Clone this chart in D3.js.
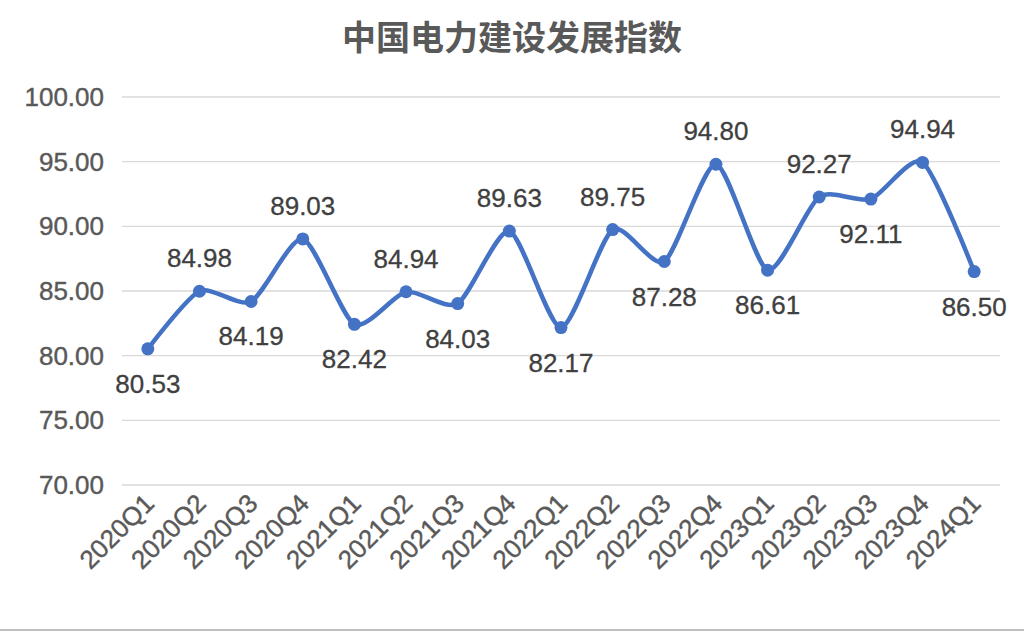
<!DOCTYPE html>
<html><head><meta charset="utf-8">
<script src="https://cdn.jsdelivr.net/npm/d3@7"></script>
<style>body{margin:0;background:#fff}</style>
</head><body><div class="chart"></div>
<script>
var quarters = ["2020Q1","2020Q2","2020Q3","2020Q4","2021Q1","2021Q2","2021Q3","2021Q4","2022Q1","2022Q2","2022Q3","2022Q4","2023Q1","2023Q2","2023Q3","2023Q4","2024Q1"];
var values = [80.53,84.98,84.19,89.03,82.42,84.94,84.03,89.63,82.17,89.75,87.28,94.80,86.61,92.27,92.11,94.94,86.50];
var labelAbove = [false,true,false,true,false,true,false,true,false,true,false,true,false,true,false,true,false];
var yTicks = [70,75,80,85,90,95,100];

var svgWidth = 1024, svgHeight = 633;
var svg = d3.select(".chart").append("svg")
  .attr("width", svgWidth).attr("height", svgHeight);

var font = "Liberation Sans, Arial, sans-serif";
var x = d3.scaleBand().domain(quarters).range([122, 1000]);
var y = d3.scaleLinear().domain([70, 100]).range([485, 97]);

// title
svg.append("text").attr("x", 512).attr("y", 50).attr("text-anchor", "middle")
  .attr("font-family", "Noto Sans CJK SC").attr("font-weight", "bold")
  .attr("font-size", 34).attr("fill", "#595959").text("中国电力建设发展指数");

// gridlines
svg.append("g").selectAll("line").data(yTicks).enter().append("line")
  .attr("x1", 122).attr("x2", 1000)
  .attr("y1", d => y(d)).attr("y2", d => y(d))
  .attr("stroke", "#d9d9d9").attr("stroke-width", 1.3);

// y axis labels
svg.append("g").selectAll("text").data(yTicks).enter().append("text")
  .attr("x", 104).attr("y", d => y(d) + 9).attr("text-anchor", "end")
  .attr("font-family", font).attr("font-size", 26).attr("fill", "#595959")
  .attr("stroke", "#595959").attr("stroke-width", 0.4)
  .text(d => d.toFixed(2));

// x axis labels
svg.append("g").selectAll("text").data(quarters).enter().append("text")
  .attr("transform", d => `translate(${x(d) + x.bandwidth() / 2 + 8}, 505) rotate(-45)`)
  .attr("text-anchor", "end")
  .attr("font-family", font).attr("font-size", 26).attr("fill", "#595959")
  .attr("stroke", "#595959").attr("stroke-width", 0.4)
  .text(d => d);

var pts = quarters.map((q, i) => [x(q) + x.bandwidth() / 2, y(values[i])]);

svg.append("path").attr("d", d3.line().curve(d3.curveCardinal.tension(0.3))(pts))
  .attr("fill", "none").attr("stroke", "#4472C4").attr("stroke-width", 4.5);

svg.append("g").selectAll("circle").data(pts).enter().append("circle")
  .attr("cx", d => d[0]).attr("cy", d => d[1]).attr("r", 6.5).attr("fill", "#4472C4");

svg.append("g").selectAll("text").data(values).enter().append("text")
  .attr("x", (d, i) => pts[i][0])
  .attr("y", (d, i) => labelAbove[i] ? pts[i][1] - 24 : pts[i][1] + 44)
  .attr("text-anchor", "middle")
  .attr("font-family", font).attr("font-size", 26).attr("fill", "#404040")
  .attr("stroke", "#404040").attr("stroke-width", 0.3)
  .text(d => d.toFixed(2));

svg.append("line").attr("x1", 0).attr("x2", 1024).attr("y1", 630).attr("y2", 630)
  .attr("stroke", "#bfbfbf").attr("stroke-width", 2);
</script>
</body></html>
